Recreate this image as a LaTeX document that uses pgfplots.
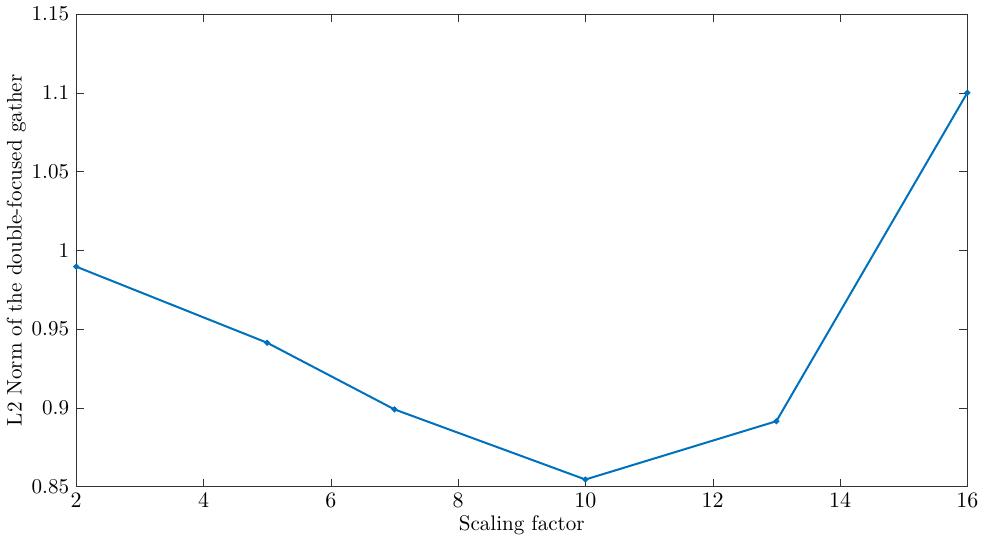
\documentclass[border=0pt]{standalone}
\usepackage{pgfplots}
\pgfplotsset{compat=1.18}
\definecolor{mblue}{rgb}{0,0.447,0.741}
\begin{document}
\begin{tikzpicture}
\begin{axis}[
  scale only axis,
  width=444pt, height=235.5pt,
  font=\fontsize{10.5}{12.5}\selectfont,
  xmin=2, xmax=16, ymin=0.85, ymax=1.15,
  xtick={2,4,...,16},
  ytick={0.85,0.9,0.95,1,1.05,1.1,1.15},
  yticklabels={0.85,0.9,0.95,1,1.05,1.1,1.15},
  tick align=inside,
  major tick length=4pt,
  axis line style={black!80},
  tick style={black!80},
  xlabel={Scaling factor},
  ylabel={L2 Norm of the double-focused gather},
  xlabel style={yshift=3pt},
  ylabel style={yshift=-4pt},
]
\addplot[mblue, line width=1pt, mark=*, mark size=0.9pt] coordinates {
(2,0.9896) (5,0.9413) (7,0.899) (10,0.8545) (13,0.8915) (16,1.100)
};
\end{axis}
\end{tikzpicture}
\end{document}
